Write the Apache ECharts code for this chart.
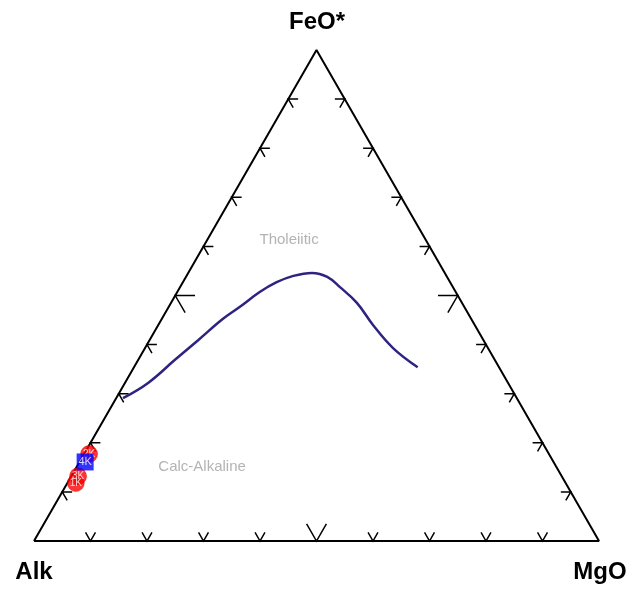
<!DOCTYPE html>
<html>
<head>
<meta charset="utf-8">
<script src="https://cdn.jsdelivr.net/npm/echarts@6/dist/echarts.min.js"></script>
<style>
  html, body { margin: 0; padding: 0; background: #fff; }
  #chart { width: 632px; height: 590px; }
</style>
</head>
<body>
<div id="chart"></div>
<script>
// AFM diagram data (percent)
var vertexNames = ['Alk', 'FeO*', 'MgO'];
var tickFractions = [0.1, 0.2, 0.3, 0.4, 0.5, 0.6, 0.7, 0.8, 0.9];

// Irvine & Baragar dividing line
var boundaryFeO = [29.1, 32.2, 36.9, 40.9, 45.2, 47.7, 50.7, 52.7, 54.0, 54.6, 53.8, 51.7, 48.5, 44.0, 39.3, 35.4];
var boundaryMgO = [1.2, 4.1, 6.5, 8.6, 10.8, 12.6, 14.6, 16.6, 18.9, 21.9, 25.0, 28.3, 32.9, 38.0, 43.9, 50.2];
var boundaryAlk = [69.7, 63.7, 56.6, 50.5, 44.0, 39.7, 34.7, 30.7, 27.1, 23.5, 21.2, 20.0, 18.6, 18.0, 16.8, 14.4];

// samples
var sampleNames = ['1K', '3K', '2K', '4K'];
var sampleFeO = [11.8, 13.2, 17.7, 16.1];
var sampleMgO = [1.5, 1.2, 0.9, 1.0];
var sampleAlk = [86.7, 85.6, 81.4, 82.9];
var sampleGroup = ['red', 'red', 'red', 'blue'];

// field names
var fieldNames = ['Tholeiitic', 'Calc-Alkaline'];
var fieldFeO = [61.3, 15.1];
var fieldMgO = [14.5, 22.2];
var fieldAlk = [24.2, 62.7];

function toXY(a, f, m) {
    var s = a + f + m;
    return [(m + f / 2) / s, f / s];
}

var chart = echarts.init(document.getElementById('chart'));

// triangle outline
var frame = [toXY(1, 0, 0), toXY(0, 0, 1), toXY(0, 1, 0), toXY(1, 0, 0)];

// ticks, parallel to the other two sides
var ticks = [];
tickFractions.forEach(function (f) {
    var L = f === 0.5 ? 0.035 : 0.0175;
    // left side (Alk - FeO)
    var a = toXY(1 - f - L, f, L), v = toXY(1 - f, f, 0), b = toXY(1 - f, f - L, L);
    ticks.push([a[0], a[1], v[0], v[1], b[0], b[1]]);
    // bottom side (Alk - MgO)
    a = toXY(1 - f - L, L, f); v = toXY(1 - f, 0, f); b = toXY(1 - f, L, f - L);
    ticks.push([a[0], a[1], v[0], v[1], b[0], b[1]]);
    // right side (MgO - FeO)
    a = toXY(L, f, 1 - f - L); v = toXY(0, f, 1 - f); b = toXY(L, f - L, 1 - f);
    ticks.push([a[0], a[1], v[0], v[1], b[0], b[1]]);
});

var boundary = boundaryFeO.map(function (f, i) {
    return toXY(boundaryAlk[i], f, boundaryMgO[i]);
});

var redPts = [], bluePts = [];
sampleNames.forEach(function (n, i) {
    var p = toXY(sampleAlk[i], sampleFeO[i], sampleMgO[i]);
    var item = { name: n, value: p };
    if (sampleGroup[i] === 'red') redPts.push(item); else bluePts.push(item);
});

var fields = fieldNames.map(function (n, i) {
    return { name: n, value: toXY(fieldAlk[i], fieldFeO[i], fieldMgO[i]) };
});

var labelFont = 'bold 24px "Liberation Sans", Arial';

var option = {
    animation: false,
    grid: { left: 34, right: 33, top: 50, bottom: 49 },
    xAxis: { type: 'value', min: 0, max: 1, show: false },
    yAxis: { type: 'value', min: 0, max: 1, show: false },
    graphic: [
        { type: 'text', x: 317, y: 22, style: { text: vertexNames[1], font: labelFont, fill: '#000', align: 'center', verticalAlign: 'middle' } },
        { type: 'text', x: 34, y: 572, style: { text: vertexNames[0], font: labelFont, fill: '#000', align: 'center', verticalAlign: 'middle' } },
        { type: 'text', x: 600, y: 572, style: { text: vertexNames[2], font: labelFont, fill: '#000', align: 'center', verticalAlign: 'middle' } }
    ],
    series: [
        {
            type: 'line',
            data: frame,
            symbol: 'none',
            lineStyle: { color: '#000', width: 2 },
            z: 2
        },
        {
            type: 'custom',
            data: ticks,
            encode: { x: [0, 2, 4], y: [1, 3, 5] },
            renderItem: function (params, api) {
                return {
                    type: 'polyline',
                    shape: {
                        points: [
                            api.coord([api.value(0), api.value(1)]),
                            api.coord([api.value(2), api.value(3)]),
                            api.coord([api.value(4), api.value(5)])
                        ]
                    },
                    style: { stroke: '#000', lineWidth: 1.5, fill: null }
                };
            },
            z: 2
        },
        {
            type: 'line',
            data: boundary,
            symbol: 'none',
            smooth: 0.4,
            lineStyle: { color: '#2e2381', width: 2.5 },
            z: 3
        },
        {
            type: 'scatter',
            data: fields,
            symbolSize: 0,
            label: {
                show: true,
                position: 'inside',
                formatter: '{b}',
                color: '#a0a0a0',
                fontSize: 15,
                fontFamily: '"Liberation Sans", Arial'
            },
            z: 3
        },
        {
            type: 'scatter',
            data: redPts,
            symbol: 'circle',
            symbolSize: 17,
            itemStyle: { color: '#ff0000', borderColor: '#cc0000', borderWidth: 0.5 },
            label: { show: true, position: 'inside', formatter: '{b}', color: '#fff', fontSize: 10, fontFamily: '"Liberation Sans", Arial' },
            z: 4
        },
        {
            type: 'scatter',
            data: bluePts,
            symbol: 'rect',
            symbolSize: 17,
            itemStyle: { color: '#0000ff' },
            label: { show: true, position: 'inside', formatter: '{b}', color: '#fff', fontSize: 11, fontFamily: '"Liberation Sans", Arial' },
            z: 5
        }
    ]
};

chart.setOption(option);
</script>
</body>
</html>
